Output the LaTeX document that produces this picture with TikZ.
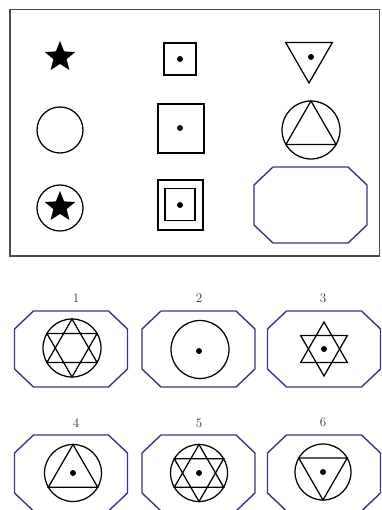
\documentclass[tikz,border=0pt]{standalone}
\usetikzlibrary{shapes.geometric}
\definecolor{navy}{HTML}{38387E}

\begin{document}
\begin{tikzpicture}[
  x=1pt, y=-1pt,
  frame/.style={draw=black!70, line width=1.6pt},
  octbox/.style={rectangle, minimum width=113pt, minimum height=76pt, inner sep=0pt, outer sep=0pt},
  octline/.style={draw=navy, line width=1.4pt, line join=round},
  ring/.style={circle, draw, line width=1.25pt, inner sep=0pt},
  tri/.style={regular polygon, regular polygon sides=3, draw, line width=1.25pt, inner sep=0pt},
  flip/.style={shape border rotate=180},
  sq/.style={rectangle, draw, line width=1.25pt, inner sep=0pt},
  dot/.style={circle, fill, inner sep=0pt, minimum size=6pt},
  solidstar/.style={star, star points=5, star point ratio=2.3, fill, inner sep=0pt, minimum size=32pt},
  num/.style={font=\fontsize{13}{15}\selectfont, text=black!80, inner sep=0pt}
]
\useasboundingbox (0,0) rectangle (381,510);

% the puzzle matrix
\draw[frame] (10,9.5) rectangle (379.5,256);

\node[solidstar] (star1) at (60,57) {};
\node[sq, minimum width=32pt, minimum height=32pt] (sq1) at (180,59) {};
\node[dot] (dot1) at (sq1) {};
\node[tri, flip, minimum size=54pt] (tri1) at (309,56) {};
\node[dot] (dot2) at (311,57) {};

\node[ring, minimum size=46pt] (ring1) at (60,130) {};
\node[sq, minimum width=46pt, minimum height=49pt] (sq2) at (181,128.5) {};
\node[dot] (dot3) at (180,128) {};
\node[ring, minimum size=58pt] (ring2) at (311,130) {};
\node[tri, minimum size=58pt] (tri2) at (ring2) {};

\node[ring, minimum size=46pt] (ring3) at (60,208) {};
\node[solidstar] (star2) at (60,207) {};
\node[sq, minimum width=45pt, minimum height=50pt] (sq3) at (180.5,205) {};
\node[sq, minimum width=30pt, minimum height=32pt] (sq4) at (180,204.5) {};
\node[dot] (dot4) at (180,205) {};
\node[octbox] (blank) at (310.5,205) {};

% answer choices
\node[num] (n1) at (76,298) {1};
\node[num] (n2) at (199,298) {2};
\node[num] (n3) at (323,298) {3};
\node[num] (n4) at (76,423) {4};
\node[num] (n5) at (199,423) {5};
\node[num] (n6) at (323,422) {6};

\node[octbox] (opt1) at (71,349) {};
\node[octbox] (opt2) at (198.5,349) {};
\node[octbox] (opt3) at (324,349) {};
\node[octbox] (opt4) at (71,473) {};
\node[octbox] (opt5) at (198.5,473) {};
\node[octbox] (opt6) at (324,473) {};

\foreach \o in {blank,opt1,opt2,opt3,opt4,opt5,opt6}
  \draw[octline] ([xshift=19pt]\o.north west) -- ([xshift=-19pt]\o.north east)
    -- ([yshift=-18pt]\o.north east) -- ([yshift=18pt]\o.south east)
    -- ([xshift=-19pt]\o.south east) -- ([xshift=19pt]\o.south west)
    -- ([yshift=18pt]\o.south west) -- ([yshift=-18pt]\o.north west) -- cycle;

\node[ring, minimum size=58pt] (c1) at (72,348) {};
\node[tri, minimum size=58pt] (c1a) at (c1) {};
\node[tri, flip, minimum size=58pt] (c1b) at (c1) {};

\node[ring, minimum size=58pt] (c2) at (200,349.5) {};
\node[dot] (d2) at (199,351) {};

\node[tri, minimum size=54pt] (s3a) at (324,349) {};
\node[tri, flip, minimum size=54pt] (s3b) at (324,349) {};
\node[dot] (d3) at (324,349) {};

\node[ring, minimum size=57pt] (c4) at (73,473) {};
\node[tri, minimum size=57pt] (t4) at (c4) {};
\node[dot] (d4) at (c4) {};

\node[ring, minimum size=57pt] (c5) at (199,473) {};
\node[tri, minimum size=57pt] (c5a) at (c5) {};
\node[tri, flip, minimum size=57pt] (c5b) at (c5) {};
\node[dot] (d5) at (c5) {};

\node[ring, minimum size=56pt] (c6) at (323,472) {};
\node[tri, flip, minimum size=56pt] (t6) at (c6) {};
\node[dot] (d6) at (c6) {};
\end{tikzpicture}
\end{document}
